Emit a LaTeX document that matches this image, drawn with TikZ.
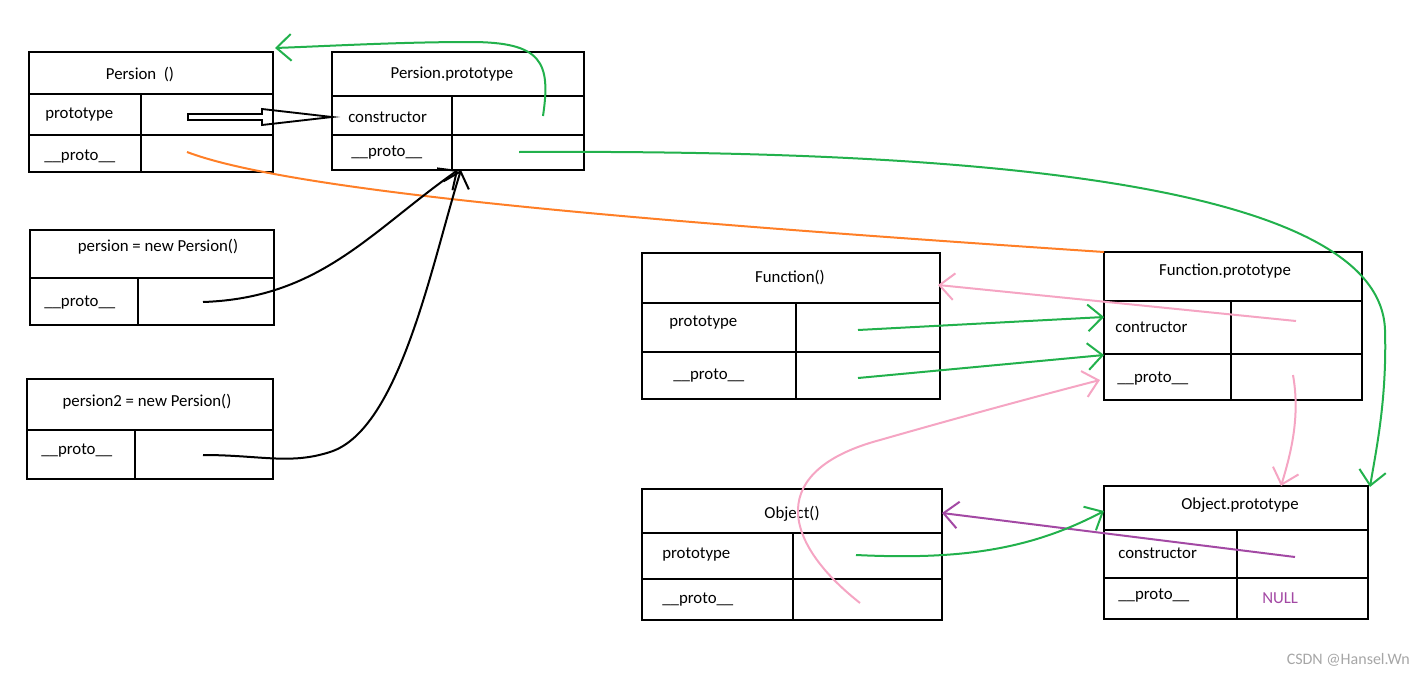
\documentclass[tikz,border=0pt]{standalone}
\usepackage{fontspec}
\setmainfont{Carlito}
\usepackage{xcolor}
\usetikzlibrary{arrows.meta}

\definecolor{pgreen}{RGB}{34,177,76}
\definecolor{porange}{RGB}{255,127,39}
\definecolor{ppink}{RGB}{245,165,195}
\definecolor{ppurple}{RGB}{163,73,164}

\begin{document}
\begin{tikzpicture}[x=0.75pt,y=0.75pt,yscale=-1,xscale=1,
  box/.style={line width=1.8pt},
  txt/.style={inner sep=0.75pt,font=\fontsize{12.6}{14}\selectfont},
  key/.style={txt,anchor=west},
  link/.style={line width=1.5pt},
  openhead/.style={-{Straight Barb[length=11pt,width=20pt]}}]
\useasboundingbox (0,0) rectangle (1424,675);

%Table: Persion ()
\draw [box] (29,52) rectangle (273,172) (29,94) -- (273,94) (29,135) -- (273,135) (141,94) -- (141,172) ;
%Table: Persion.prototype
\draw [box] (332,52) rectangle (584,170) (332,96) -- (584,96) (332,135) -- (584,135) (452,96) -- (452,170) ;
%Table: persion
\draw [box] (30,230) rectangle (274,325) (30,278) -- (274,278) (138,278) -- (138,325) ;
%Table: persion2
\draw [box] (27,379) rectangle (273,479) (27,430) -- (273,430) (135,430) -- (135,479) ;
%Table: Function()
\draw [box] (642,253) rectangle (940,399) (642,303) -- (940,303) (642,352) -- (940,352) (796,303) -- (796,399) ;
%Table: Function.prototype
\draw [box] (1104,252) rectangle (1362,400) (1104,301) -- (1362,301) (1104,354) -- (1362,354) (1231,301) -- (1231,400) ;
%Table: Object()
\draw [box] (642,489) rectangle (942,620) (642,533) -- (942,533) (642,579) -- (942,579) (793,533) -- (793,620) ;
%Table: Object.prototype
\draw [box] (1104,486) rectangle (1368,619) (1104,530) -- (1368,530) (1104,578) -- (1368,578) (1237,530) -- (1237,619) ;

% Text Node
\node [txt] (perT) at (140,75) {Persion\ \ ()};
\node [key] (perProto) at (44,115) {prototype};
\node [key] (perDund) at (43,157) {\_\_proto\_\_};
% Text Node
\node [txt] (ppT) at (452,74) {Persion.prototype};
\node [key] (ppCons) at (347,117) {constructor};
\node [key] (ppDund) at (350,153) {\_\_proto\_\_};
% Text Node
\node [txt] (p1T) at (158,247) {persion = new Persion()};
\node [key] (p1Dund) at (43,303) {\_\_proto\_\_};
% Text Node
\node [txt] (p2T) at (147,402) {persion2 = new Persion()};
\node [key] (p2Dund) at (40,451) {\_\_proto\_\_};
% Text Node
\node [txt] (fT) at (790,278) {Function()};
\node [key] (fProto) at (668,323) {prototype};
\node [key] (fDund) at (672,376) {\_\_proto\_\_};
% Text Node
\node [txt] (fpT) at (1225,271) {Function.prototype};
\node [key] (fpCons) at (1114,327) {contructor};
\node [key] (fpDund) at (1116,379) {\_\_proto\_\_};
% Text Node
\node [txt] (oT) at (792,514) {Object()};
\node [key] (oProto) at (661,555) {prototype};
\node [key] (oDund) at (661,600) {\_\_proto\_\_};
% Text Node
\node [txt] (opT) at (1240,505) {Object.prototype};
\node [key] (opCons) at (1117,553) {constructor};
\node [key] (opDund) at (1117,596) {\_\_proto\_\_};
\node [key,text=ppurple] (opNull) at (1261,598) {NULL};
% Text Node
\node [txt,anchor=east,text=black!35,font=\fontsize{12}{14}\selectfont] (mark) at (1411,660) {CSDN @Hansel.Wn};

%Connector ends
\coordinate (perProtoV) at (188,117);
\coordinate (perDundV) at (187,152);
\coordinate (perNE) at (275,48);
\coordinate (ppW) at (332,117);
\coordinate (ppConsV) at (543,116);
\coordinate (ppDundV) at (519,152);
\coordinate (ppS) at (458,170);
\coordinate (ppS2) at (461,170);
\coordinate (p1DundV) at (203,302);
\coordinate (p2DundV) at (203,455);
\coordinate (fProtoV) at (858,330);
\coordinate (fDundV) at (858,378);
\coordinate (fE) at (938,285);
\coordinate (fpNW) at (1104,252);
\coordinate (fpConsW) at (1104,317);
\coordinate (fpConsW2) at (1104,355);
\coordinate (fpDundW) at (1100,380);
\coordinate (fpConsV) at (1296,321);
\coordinate (fpDundV) at (1293,375);
\coordinate (oProtoV) at (856,555);
\coordinate (oDundV) at (860,603);
\coordinate (oE) at (942,513);
\coordinate (opW) at (1104,511);
\coordinate (opN) at (1281,486);
\coordinate (opNE) at (1370,487);
\coordinate (opConsV) at (1295,557);

%Hollow arrow prototype -> Persion.prototype
\draw [line width=1.4pt] (perProtoV) ++(0,-3) -- ++(74,0) -- ++(0,-5) -- (ppW) -- ++(-70,8) -- ++(0,-5) -- ++(-74,0) -- cycle ;
%Green loop constructor -> Persion ()
\draw [link,pgreen,openhead] (ppConsV) .. controls (551,62) and (542,42) .. (470,42) .. controls (400,42) and (330,46) .. (perNE) ;
%Orange
\draw [link,porange] (perDundV) .. controls (300,195) and (700,225) .. (fpNW) ;
%Green long
\draw [link,pgreen,openhead] (ppDundV) .. controls (900,150) and (1380,170) .. (1385,330) .. controls (1387,400) and (1376,450) .. (opNE) ;
%Black curves
\draw [link,black,openhead] (p1DundV) .. controls (320,298) and (370,232) .. (ppS) ;
\draw [link,black,openhead] (p2DundV) .. controls (260,455) and (290,465) .. (330,452) .. controls (400,430) and (432,262) .. (ppS2) ;
%Function arrows
\draw [link,ppink,openhead] (fpConsV) -- (fE) ;
\draw [link,pgreen,openhead] (fProtoV) -- (fpConsW) ;
\draw [link,pgreen,openhead] (fDundV) -- (fpConsW2) ;
\draw [link,ppink,openhead] (oDundV) .. controls (780,540) and (768,470) .. (880,440) .. controls (950,420) and (1030,398) .. (fpDundW) ;
\draw [link,ppink,openhead] (fpDundV) .. controls (1300,415) and (1292,450) .. (opN) ;
%Object arrows
\draw [link,ppurple,openhead] (opConsV) -- (oE) ;
\draw [link,pgreen,openhead] (oProtoV) .. controls (960,560) and (1030,550) .. (opW) ;

\end{tikzpicture}
\end{document}
